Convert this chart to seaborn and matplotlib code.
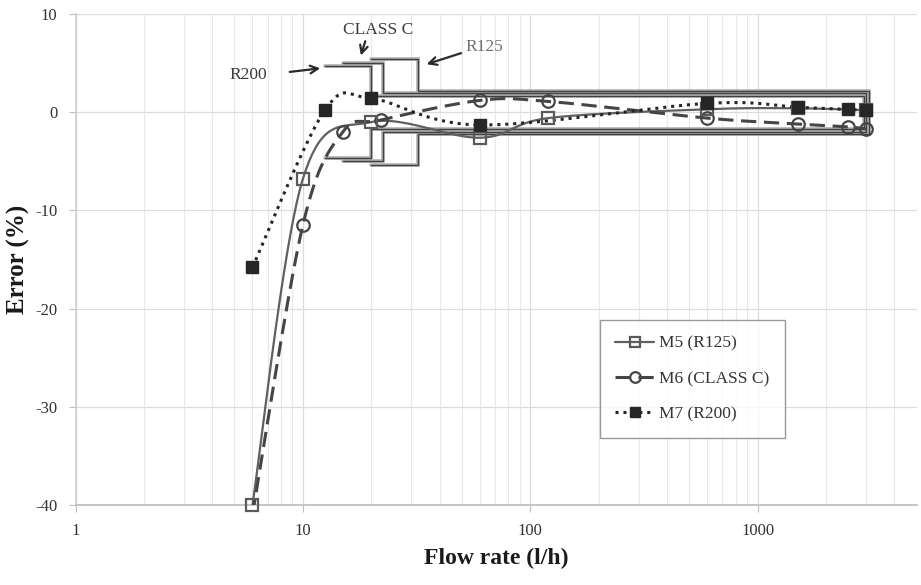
import numpy as np
import pandas as pd
import matplotlib
matplotlib.use("Agg")
import matplotlib.pyplot as plt
from matplotlib.lines import Line2D
import seaborn as sns

# ---- data ----
m5_flow = [6, 10, 20, 60, 120, 600, 1500, 3000]
m5_err = [-40.0, -6.8, -1.0, -2.6, -0.6, 0.3, 0.4, 0.2]

m6_flow = [6, 10, 15, 22, 60, 120, 600, 1500, 2500, 3000]
m6_err = [-41.0, -11.5, -2.0, -0.8, 1.2, 1.1, -0.6, -1.2, -1.5, -1.7]

m7_flow = [6, 12.5, 20, 60, 600, 1500, 2500, 3000]
m7_err = [-15.8, 0.2, 1.4, -1.3, 0.9, 0.5, 0.3, 0.2]

series_names = ["M5 (R125)", "M6 (CLASS C)", "M7 (R200)"]

# MPE envelopes: (Q1, Q2, Q4, lower-zone MPE, upper-zone MPE)
env_r200 = [12.5, 20, 2950, 4.7, 1.7]
env_classc = [15, 22.5, 3000, 5.0, 2.0]
env_r125 = [20, 32, 3100, 5.4, 2.2]

x_ticks = [1, 10, 100, 1000]
y_ticks = [10, 0, -10, -20, -30, -40]

# ---- styling ----
sns.set_theme(style="white")
plt.rcParams["font.family"] = ["Liberation Serif", "DejaVu Serif"]

W, H = 921, 585
fig = plt.figure(figsize=(W / 100, H / 100), dpi=100)
ax = fig.add_axes([75.5 / W, 1 - 505 / H, (916.5 - 75.5) / W, (505 - 14) / H])
ax.set_xscale("log")
ax.set_xlim(1, 5000)
ax.set_ylim(-40, 10)


def smooth(xs, ys, n=40):
    """Excel-style smoothed line (uniform Catmull-Rom) in log-x space."""
    lx = np.log10(np.asarray(xs, float))
    yy = np.asarray(ys, float)
    P = np.column_stack([lx, yy])
    P = np.vstack([P[0], P, P[-1]])
    out = []
    for i in range(1, len(P) - 2):
        p0, p1, p2, p3 = P[i - 1], P[i], P[i + 1], P[i + 2]
        c1 = p1 + (p2 - p0) / 6
        c2 = p2 - (p3 - p1) / 6
        t = np.linspace(0, 1, n)[:, None]
        seg = ((1 - t) ** 3) * p1 + 3 * ((1 - t) ** 2) * t * c1 + 3 * (1 - t) * t ** 2 * c2 + t ** 3 * p2
        out.append(seg if i == 1 else seg[1:])
    out = np.vstack(out)
    return 10 ** out[:, 0], out[:, 1]


# grid
ax.grid(True, which="major", axis="both", color="#dcdcdc", lw=0.9)
ax.grid(True, which="minor", axis="x", color="#e8e8e8", lw=0.8)
ax.set_axisbelow(True)

# envelopes
for env in [env_r125, env_classc, env_r200]:
    q1, q2, q4, lo, up = env
    ex = [q1, q2, q2, q4, q4, q2, q2, q1]
    ey = [lo, lo, up, up, -up, -up, -lo, -lo]
    ax.plot(ex, ey, color="#b0b0b0", lw=2.6, zorder=2, solid_joinstyle="miter")
    ax.plot(ex, ey, color="#404040", lw=1.0, zorder=2.1, solid_joinstyle="miter")

# series
styles = [
    dict(color="#606060", lw=1.6, ls="-", marker="s", ms=9, mfc="none", mec="#5a5a5a", mew=1.6),
    dict(color="#454545", lw=2.2, ls=(0, (5, 2.5)), marker="o", ms=9, mfc="none", mec="#454545", mew=1.6),
    dict(color="#262626", lw=2.2, ls=(0, (1, 1.6)), marker="s", ms=8, mfc="#262626", mec="#262626", mew=1),
]
datas = [(m5_flow, m5_err), (m6_flow, m6_err), (m7_flow, m7_err)]
zords = [4.5, 4, 5]
handles = []
for name, (fx, fy), st, zo in zip(series_names, datas, styles, zords):
    sx, sy = smooth(fx, fy)
    df_line = pd.DataFrame({"flow": sx, "err": sy})
    sns.lineplot(data=df_line, x="flow", y="err", sort=False, estimator=None, ax=ax,
                 color=st["color"], lw=st["lw"], linestyle=st["ls"], zorder=3)
    df_pts = pd.DataFrame({"flow": fx, "err": fy})
    pts = df_pts[df_pts["err"] >= -40]
    ax.plot(pts["flow"], pts["err"], ls="none", marker=st["marker"], ms=st["ms"],
            mfc=st["mfc"], mec=st["mec"], mew=st["mew"], zorder=zo, clip_on=False)
    handles.append(Line2D([], [], color=st["color"], lw=st["lw"], ls=st["ls"], marker=st["marker"],
                          ms=st["ms"] * 0.85, mfc=st["mfc"], mec=st["mec"], mew=st["mew"], label=name))

# annotations
txt_kw = dict(fontsize=12.5, color="#3a3a3a", ha="center", va="center")
ax.text(21.4, 8.35, "CLASS C", **txt_kw)
ax.text(5.74, 3.8, "R200", **txt_kw)
ax.text(63, 6.6, "R125", fontsize=12.5, color="#707070", ha="center", va="center")
arrow_kw = dict(arrowstyle="->", color="#2a2a2a", lw=1.6, mutation_scale=14)
ax.annotate("", xy=(17.85, 5.5), xytext=(18.97, 7.5), arrowprops=arrow_kw)
ax.annotate("", xy=(12.27, 4.5), xytext=(8.52, 4.07), arrowprops=arrow_kw)
ax.annotate("", xy=(34.1, 4.8), xytext=(51, 6.1), arrowprops=arrow_kw)

# axes styling
for s in ["top", "right"]:
    ax.spines[s].set_visible(False)
ax.spines["left"].set_color("#d0d0d0")
ax.spines["bottom"].set_color("#bfbfbf")
ax.set_xticks(x_ticks)
ax.set_xticklabels([str(v) for v in x_ticks])
ax.set_yticks(y_ticks)
ax.set_yticklabels([str(v) for v in y_ticks])
ax.tick_params(axis="both", which="major", length=5, width=0.8, color="#bfbfbf",
               labelsize=12, labelcolor="#333333", pad=8, left=True, bottom=True)
ax.tick_params(axis="x", which="minor", length=0)

ax.set_xlabel("Flow rate (l/h)", fontsize=17, fontweight="bold", color="#1a1a1a", labelpad=6)
ax.set_ylabel("Error (%)", fontsize=18, fontweight="bold", color="#1a1a1a", labelpad=4)

leg = ax.legend(handles=handles, loc="upper left", bbox_to_anchor=(0.6235, 0.377),
                frameon=True, fancybox=False, edgecolor="#808080", fontsize=12.5,
                handlelength=2.2, labelspacing=1.1, borderpad=0.9, handletextpad=0.3,
                borderaxespad=0)
leg.get_frame().set_linewidth(1.0)
for t in leg.get_texts():
    t.set_color("#333333")

fig.savefig("out.png", dpi=100)
